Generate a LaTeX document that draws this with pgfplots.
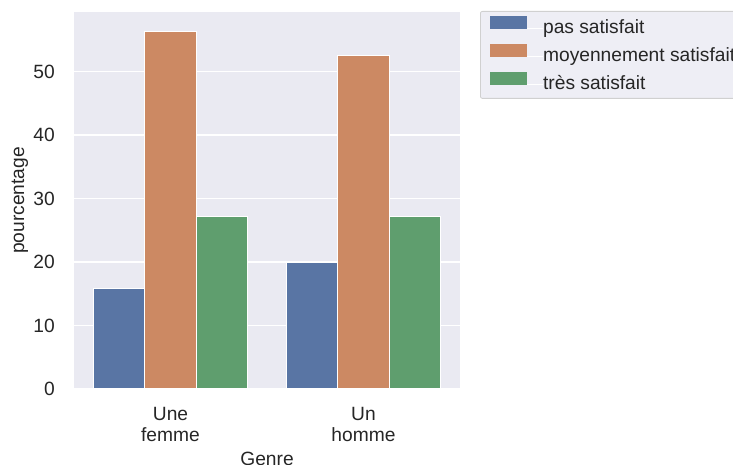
\documentclass[border=0pt]{standalone}
\usepackage{pgfplots}
\pgfplotsset{compat=1.18}
\usepackage{fontspec}
\setmainfont{Liberation Sans}
\definecolor{sbblue}{HTML}{5975A4}
\definecolor{sborange}{HTML}{CC8963}
\definecolor{sbgreen}{HTML}{5F9E6E}
\definecolor{sbbg}{HTML}{EAEAF2}
\definecolor{sbtext}{HTML}{262626}
\definecolor{legbg}{HTML}{EEEEF5}
\definecolor{legedge}{HTML}{D0D0D0}
\newcommand{\chartfont}{\fontsize{19.2}{21}\selectfont}
\begin{document}
\begin{tikzpicture}
\useasboundingbox (-74pt,-76pt) rectangle (659pt,389pt);
\clip (-74pt,-76pt) rectangle (659pt,389pt);
\begin{axis}[
  at={(0pt,0pt)}, anchor=south west,
  width=386pt, height=377pt, scale only axis,
  xmin=-0.5, xmax=1.5, ymin=0, ymax=59.4,
  axis background/.style={fill=sbbg},
  axis line style={draw=none},
  major tick length=0pt,
  ytick={0,10,20,30,40,50},
  xtick={0,1},
  xticklabels={Une\\femme, Un\\homme},
  ymajorgrids, grid style={white, line width=1.3pt},
  ybar, bar width=0.2667, bar shift=0pt,
  tick label style={font=\chartfont, text=sbtext},
  /pgf/number format/assume math mode=true,
  yticklabel style={inner sep=0pt, anchor=east, xshift=-19pt},
  xticklabel style={inner sep=0pt, anchor=north, align=center, yshift=-18pt},
  xlabel={Genre}, ylabel={pourcentage},
  label style={font=\chartfont, text=sbtext},
  xlabel style={at={(axis description cs:0.5,0)}, anchor=north, inner sep=0pt, yshift=-63pt},
  ylabel style={at={(axis description cs:0,0.5)}, anchor=center, inner sep=0pt, yshift=54pt},
  legend style={at={(1,1)}, anchor=north west, xshift=20pt, yshift=1pt,
    fill=legbg, draw=legedge, rounded corners=2pt, line width=0.8pt,
    font=\chartfont, text=sbtext,
    inner xsep=10pt, inner ysep=5pt, row sep=7pt, column sep=0pt,
    nodes={inner xsep=0pt, inner ysep=0pt, text height=14pt, text depth=4pt}},
  legend cell align=left,
]
\addplot[fill=sbblue, draw=white, line width=1pt, legend image code/.code={\fill[sbblue, sharp corners] (0pt,-0.5pt) rectangle (36pt,11.5pt); \path (36pt,0pt) -- (51.7pt,0pt);}]
  coordinates {(-0.2667,15.9) (0.7333,20.0)};
\addplot[fill=sborange, draw=white, line width=1pt, legend image code/.code={\fill[sborange, sharp corners] (0pt,-0.5pt) rectangle (36pt,11.5pt); \path (36pt,0pt) -- (51.7pt,0pt);}]
  coordinates {(0,56.4) (1,52.6)};
\addplot[fill=sbgreen, draw=white, line width=1pt, legend image code/.code={\fill[sbgreen, sharp corners] (0pt,-0.5pt) rectangle (36pt,11.5pt); \path (36pt,0pt) -- (51.7pt,0pt);}]
  coordinates {(0.2667,27.2) (1.2667,27.2)};
\legend{pas satisfait, moyennement satisfait, très satisfait}
\end{axis}
\end{tikzpicture}
\end{document}
